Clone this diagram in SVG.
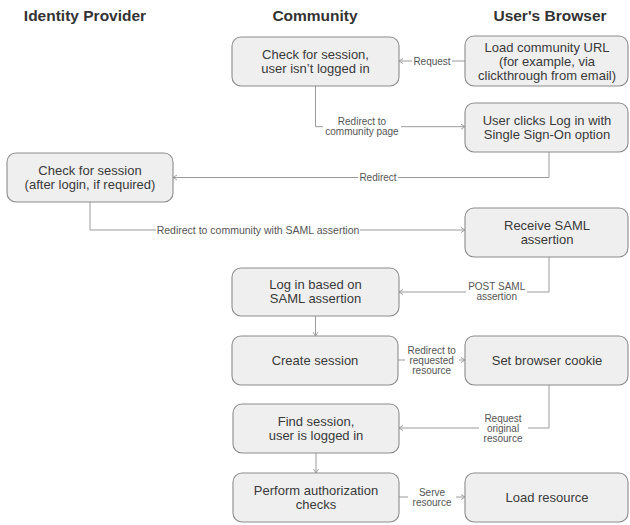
<svg xmlns="http://www.w3.org/2000/svg" width="630" height="525" viewBox="0 0 630 525">
<style>
.box{fill:#efefef;stroke:#8c8c8c;stroke-width:1.1}
.t{font-family:"Liberation Sans",Arial,sans-serif;font-size:13px;fill:#3a3a3a;text-anchor:middle;dominant-baseline:central}
.h{font-family:"Liberation Sans",Arial,sans-serif;font-size:15.5px;font-weight:bold;fill:#333;text-anchor:middle}
.c{fill:none;stroke:#9a9a9a;stroke-width:1;marker-end:url(#ah)}
.l{font-family:"Liberation Sans",Arial,sans-serif;font-size:10px;fill:#555;text-anchor:middle;dominant-baseline:central}
.bg{fill:#fff}
</style>
<defs>
<marker id="ah" markerUnits="userSpaceOnUse" markerWidth="8" markerHeight="8" refX="5" refY="3" orient="auto">
<path d="M1,0.5 L5,3 L1,5.5" fill="none" stroke="#999" stroke-width="0.9"/>
</marker>
</defs>
<rect width="630" height="525" fill="#fff"/>
<g id="headers">
<text class="h" x="85" y="20.5">Identity Provider</text>
<text class="h" x="315" y="20.5">Community</text>
<text class="h" x="550" y="20.5">User's Browser</text>
</g>
<g id="connectors">
<path class="c" d="M465,61 H399"/>
<path class="c" d="M315.5,86 V126.7 H465"/>
<path class="c" d="M549,152 V177.5 H173"/>
<path class="c" d="M90,202 V230 H465"/>
<path class="c" d="M549,257 V292 H399"/>
<path class="c" d="M315.5,316 V336"/>
<path class="c" d="M398,360 H465"/>
<path class="c" d="M549,385 V428 H399"/>
<path class="c" d="M316,453 V473"/>
<path class="c" d="M399,497 H465"/>
<rect class="bg" x="412" y="55" width="40" height="12"/>
<text class="l" x="432" y="61">Request</text>
<rect class="bg" x="323" y="115" width="78" height="23"/>
<text class="l" x="362" y="121.7">Redirect to</text>
<text class="l" x="362" y="131.7">community page</text>
<rect class="bg" x="358" y="171" width="40" height="12"/>
<text class="l" x="378" y="177.5">Redirect</text>
<rect class="bg" x="156" y="224" width="204" height="12"/>
<text class="l" x="258" y="230" style="font-size:10.5px">Redirect to community with SAML assertion</text>
<rect class="bg" x="466" y="280" width="61" height="23"/>
<text class="l" x="496.7" y="286.5">POST SAML</text>
<text class="l" x="496.7" y="296.5">assertion</text>
<rect class="bg" x="405" y="344" width="54" height="32"/>
<text class="l" x="431.7" y="350">Redirect to</text>
<text class="l" x="431.7" y="360">requested</text>
<text class="l" x="431.7" y="370">resource</text>
<rect class="bg" x="479" y="412" width="49" height="32"/>
<text class="l" x="503" y="418">Request</text>
<text class="l" x="503" y="428">original</text>
<text class="l" x="503" y="438">resource</text>
<rect class="bg" x="408" y="486" width="48" height="22"/>
<text class="l" x="432" y="492">Serve</text>
<text class="l" x="432" y="502">resource</text>
</g>
<g id="n1">
<rect class="box" x="232" y="37" width="167" height="49" rx="9"/>
<text class="t" x="315.5" y="54.5">Check for session,</text>
<text class="t" x="315.5" y="68.5">user isn’t logged in</text>
</g>
<g id="n2">
<rect class="box" x="465" y="36" width="163" height="50" rx="9"/>
<text class="t" x="547" y="47.5">Load community URL</text>
<text class="t" x="547" y="61.5">(for example, via</text>
<text class="t" x="547" y="75.5">clickthrough from email)</text>
</g>
<g id="n3">
<rect class="box" x="465" y="103" width="163" height="49" rx="9"/>
<text class="t" x="547" y="120.3">User clicks Log in with</text>
<text class="t" x="547" y="134.3">Single Sign-On option</text>
</g>
<g id="n4">
<rect class="box" x="7" y="153" width="166" height="49" rx="9"/>
<text class="t" x="90" y="170.8">Check for session</text>
<text class="t" x="90" y="184.8">(after login, if required)</text>
</g>
<g id="n5">
<rect class="box" x="465" y="208" width="163" height="49" rx="9"/>
<text class="t" x="547" y="225.5">Receive SAML</text>
<text class="t" x="547" y="239.5">assertion</text>
</g>
<g id="n6">
<rect class="box" x="232" y="268" width="167" height="48" rx="9"/>
<text class="t" x="315.5" y="284.5">Log in based on</text>
<text class="t" x="315.5" y="298.5">SAML assertion</text>
</g>
<g id="n7">
<rect class="box" x="232" y="336" width="166" height="49" rx="9"/>
<text class="t" x="315" y="360.5">Create session</text>
</g>
<g id="n8">
<rect class="box" x="465" y="336" width="163" height="49" rx="9"/>
<text class="t" x="547" y="360">Set browser cookie</text>
</g>
<g id="n9">
<rect class="box" x="233" y="404" width="166" height="49" rx="9"/>
<text class="t" x="316" y="421.2">Find session,</text>
<text class="t" x="316" y="435.2">user is logged in</text>
</g>
<g id="n10">
<rect class="box" x="233" y="473" width="166" height="49" rx="9"/>
<text class="t" x="316" y="490.2">Perform authorization</text>
<text class="t" x="316" y="504.2">checks</text>
</g>
<g id="n11">
<rect class="box" x="465" y="473" width="163" height="49" rx="9"/>
<text class="t" x="547" y="497">Load resource</text>
</g>
</svg>
